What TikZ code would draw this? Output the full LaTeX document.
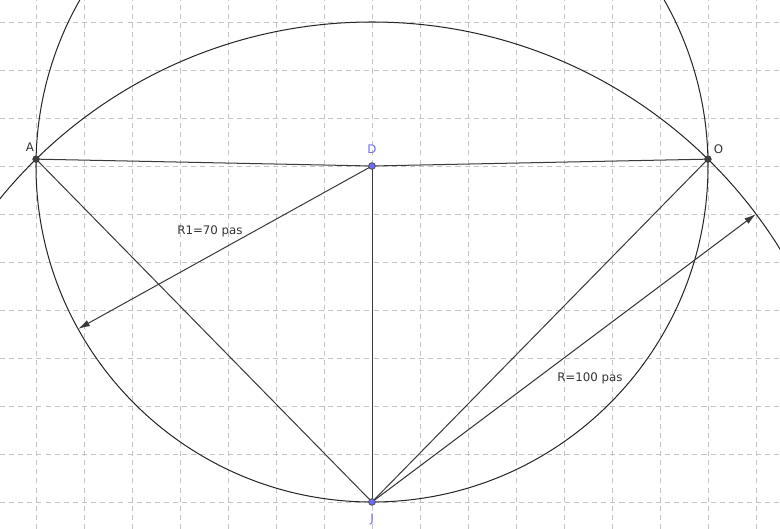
\documentclass[tikz,border=0pt]{standalone}
\usepackage{fontspec}
\setmainfont{DejaVu Sans}
\usetikzlibrary{arrows.meta,calc}
\definecolor{gridc}{HTML}{C4C4C4}
\definecolor{linec}{HTML}{3A3A3A}
\definecolor{ptblue}{HTML}{6E6EF5}
\definecolor{lblblue}{HTML}{7070F0}
\tikzset{
  gridline/.style={gridc, line width=0.5pt, dash pattern=on 3pt off 2.4pt},
  seg/.style={linec, line width=0.6pt},
  circ/.style={black!85, line width=0.6pt},
  radarrow/.style={linec, line width=0.6pt, -{Latex[length=7pt,width=4pt]}},
  darkpt/.style={circle, fill=black!75, draw=black!80, line width=0.3pt, inner sep=0pt, minimum size=4pt},
  bluept/.style={circle, fill=ptblue, draw=black!75, line width=0.4pt, inner sep=0pt, minimum size=4pt},
  lbl/.style={font=\fontsize{7pt}{8pt}\selectfont, text=black!80},
  bluelbl/.style={font=\fontsize{7pt}{8pt}\selectfont, text=lblblue},
}
\begin{document}
\begin{tikzpicture}
\useasboundingbox (-7.75,-7.5625) rectangle (8.5,3.4583);
\clip (-7.75,-7.5625) rectangle (8.5,3.4583);
% grid
\foreach \x in {-7,...,8} \draw[gridline] (\x,-7.5625) -- (\x,3.4583);
\foreach \y in {-7,...,3} \draw[gridline] (-7.75,\y) -- (8.5,\y);
% points
\coordinate (Dc) at (0,0);
\coordinate (Jc) at (0,-7);
\coordinate (Ac) at (-6.99854,0.142857);
\coordinate (Oc) at (6.99854,0.142857);
\coordinate (T1) at ($(0,0)+(209:7)$);
\coordinate (T2) at (8,-1);
% circles
\draw[circ] (Dc) circle (7);
\draw[circ] (Jc) circle (10);
% segments
\draw[seg] (Ac) -- (Dc) -- (Oc);
\draw[seg] (Ac) -- (Jc);
\draw[seg, line width=0.5pt] (Dc) -- (Jc);
\draw[seg] (Oc) -- (Jc);
% radius arrows
\draw[radarrow] (Dc) -- (T1);
\draw[radarrow] (Jc) -- (T2);
% labels
\node[lbl] (r1) at (-3.375,-1.354) {R1=70 pas};
\node[lbl] (r2) at (4.54,-4.417) {R=100 pas};
% point markers
\node[darkpt] (A) at (Ac) {};
\node[darkpt] (O) at (Oc) {};
\node[bluept] (D) at (Dc) {};
\node[bluept] (J) at (Jc) {};
\node[lbl, anchor=south east, inner sep=1pt] (la) at ($(Ac)+(0.0,0.12)$) {A};
\node[lbl, anchor=south west, inner sep=1pt] (lo) at ($(Oc)+(0.08,0.08)$) {O};
\node[bluelbl, anchor=south, inner sep=1pt] (ld) at ($(Dc)+(0,0.22)$) {D};
\node[bluelbl, anchor=north, inner sep=1pt] (lj) at ($(Jc)+(0,-0.2)$) {J};
\end{tikzpicture}
\end{document}
